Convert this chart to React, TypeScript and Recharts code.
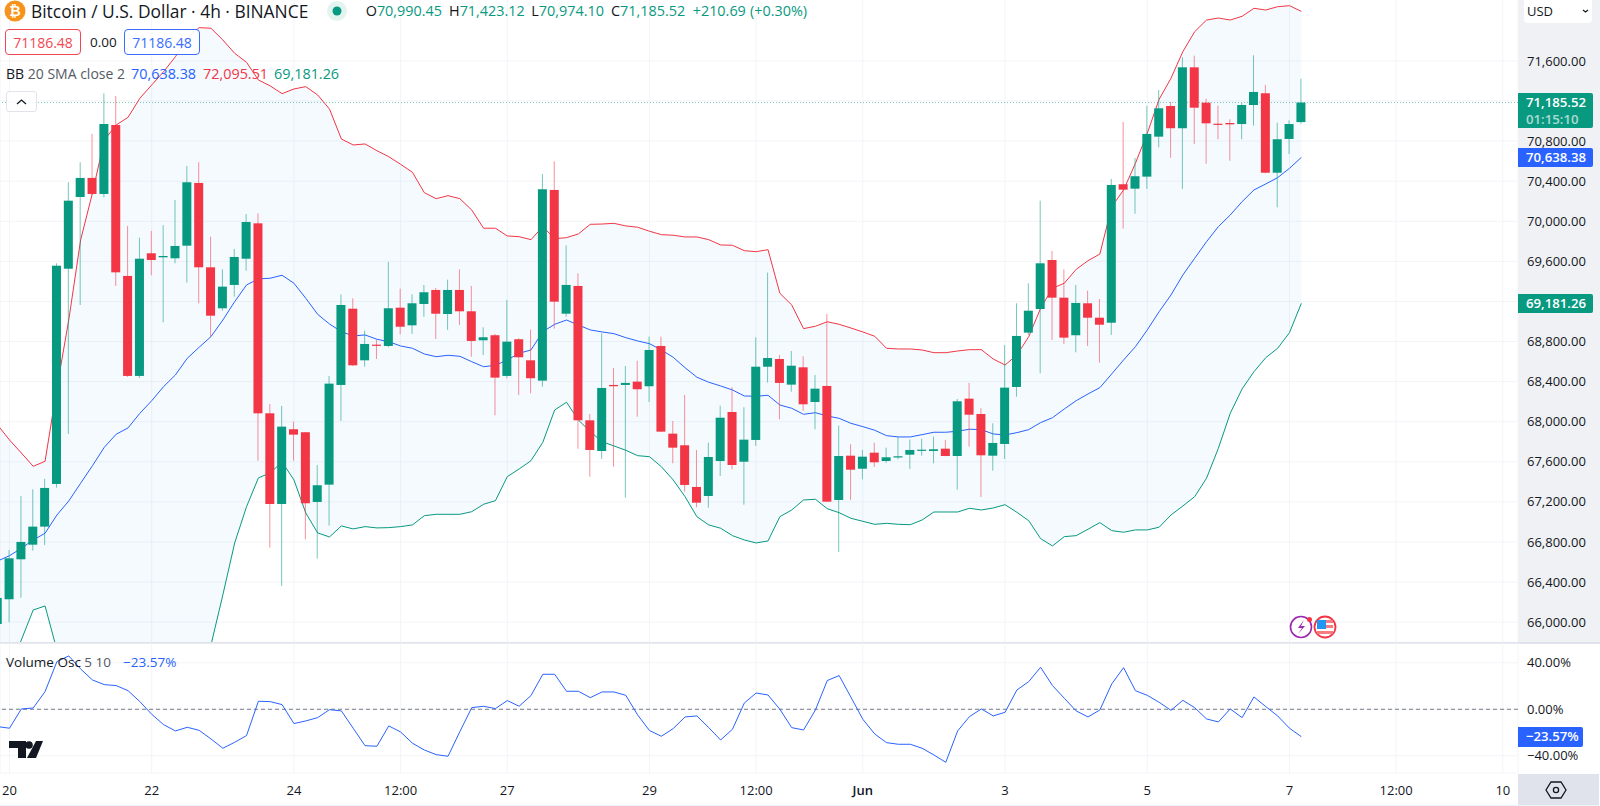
import { Area, Bar, CartesianGrid, ComposedChart, Line, LineChart, ReferenceLine, XAxis, YAxis } from 'recharts';

const FONT = '"Open Sans", sans-serif';
const UP = '#089981';
const DOWN = '#f23645';
const BLUE = '#2962ff';
const TEXT = '#131722';

// 4h candles, first entry sits one bar left of the "20" tick
const opens = [65981,66228,66627,66773,66953,67379,69527,70243,70433,70273,70961,69455,68457,69681,69641,69631,69757,70383,69541,69132,69365,69627,69980,68084,67179,67925,67895,67199,67372,68367,69128,68613,68769,68756,69138,68962,69175,69315,69075,69315,69102,68813,68863,68457,68823,68613,68410,70313,69078,69355,68014,67708,68367,68367,68400,68354,68756,67881,67765,67349,67259,67608,68097,67601,67818,68549,68626,68370,68543,68197,68357,67219,67661,67531,67691,67608,67648,67671,67711,67708,67731,67658,68230,68077,67661,67778,68347,68889,69125,69614,69238,68863,69182,69038,68988,70370,70326,70446,70845,71151,70929,71537,71184,70974,70981,70971,71161,71278,70485,70822,70990.45];
const closes = [66241,66637,66800,66953,67339,69557,70206,70433,70273,70971,69491,68457,69627,69614,69654,69754,70390,69541,69058,69348,69644,69993,68084,67179,67951,67871,67186,67366,68380,69165,68563,68776,68759,69132,68948,69182,69292,69078,69315,69102,68806,68843,68440,68799,68643,68434,70320,69198,69365,68014,67718,68337,68354,68387,68324,68716,67901,67741,67369,67192,67648,68040,67568,67821,68549,68636,68387,68559,68174,68330,67202,67658,67521,67651,67595,67645,67655,67718,67721,67725,67658,68204,68070,67665,67788,68340,68856,69108,69581,69238,68839,69185,69038,68968,70363,70316,70450,70872,71128,70929,71537,71134,70978,70964,70968,71161,71291,70485,70819,70971,71185.52];
const highs = [66271,66720,67259,67326,67429,69581,70390,70589,70872,71278,71251,69954,69837,69904,69961,70213,70552,70589,69847,69521,69724,70073,70080,68177,68157,68001,67898,67568,68457,69272,69232,68909,68816,69594,69328,69272,69365,69335,69418,69521,69355,68942,68876,69215,68833,68919,70472,70599,69761,69481,68077,68883,68536,68556,68609,68849,68849,68007,68267,67718,67791,68160,68344,68144,68843,69488,68666,68706,68653,68467,69075,67961,67775,67718,67791,67741,67851,67821,67828,67851,67818,68227,68387,68134,67984,68766,69182,69381,70206,69704,69521,69365,69308,69225,70423,70991,70632,71154,71311,71191,71637,71653,71224,71154,71018,71184,71657,71361,70984,71008,71423.12];
const lows = [65922,66000,66244,66713,66770,67342,67878,69165,70263,70240,69355,68447,68437,69461,68992,69581,69388,69182,68849,69108,69248,69507,67611,66743,66361,67611,66827,66633,66963,68008,68556,68549,68626,68743,68873,68876,69048,68826,68916,68965,68649,68666,68064,68434,68267,68284,68350,68929,69048,67731,67452,67628,67551,67242,68050,68197,67898,67585,67302,67146,67142,67459,67525,67172,67758,68390,68024,68300,68107,67925,67199,66700,67219,67425,67548,67591,67625,67528,67661,67585,67655,67322,67751,67249,67511,67628,68250,68866,68483,68816,68776,68693,68756,68589,68866,69927,70076,70323,70739,70635,70323,70772,70575,70819,70605,70819,70955,70479,70140,70672,70974.1];

// Bollinger bands 20 / 2
const upperBand = [67967,67818,67688,67555,67605,68337,69015,69814,70283,70812,70961,71038,71228,71361,71493,71643,71827,71933,71927,71810,71677,71587,71411,71351,71274,71321,71344,71261,71121,70822,70762,70772,70705,70645,70569,70489,70286,70226,70256,70226,70113,69931,69931,69854,69847,69817,69947,69827,69837,69874,69970,69973,69980,69954,69941,69901,69867,69861,69844,69844,69817,69764,69761,69707,69697,69717,69282,69165,68929,68953,68998,68972,68935,68896,68853,68733,68726,68726,68716,68689,68689,68706,68719,68719,68626,68566,68666,68849,69132,69332,69382,69521,69607,69674,70146,70313,70579,70879,71218,71428,71693,71893,72009,72029,72009,72046,72126,72109,72142,72152,72095.51];
const midBand = [66610,66663,66737,66820,66887,67069,67209,67386,67561,67745,67875,67938,68084,68210,68350,68467,68633,68743,68849,69015,69198,69365,69425,69432,69462,69382,69232,69072,68975,68899,68856,68866,68823,68799,68756,68733,68676,68649,68663,68653,68599,68549,68563,68616,68683,68716,68899,68972,69015,68965,68916,68896,68879,68839,68806,68779,68716,68643,68539,68444,68394,68357,68317,68257,68254,68264,68167,68134,68074,68090,68057,68034,67984,67951,67915,67861,67848,67848,67871,67895,67895,67905,67925,67921,67878,67868,67891,67921,67991,68040,68127,68210,68277,68340,68477,68616,68749,68916,69098,69265,69464,69631,69797,69947,70063,70196,70313,70373,70436,70529,70638.38];
const lowerBand = [65323,65522,65822,66121,66161,65722,65422,65023,64624,64225,64025,63926,63926,64075,64225,64425,64824,65223,65772,66271,66790,67152,67439,67489,67598,67419,67089,66890,66850,66960,66930,66953,66940,66943,66953,66970,67062,67076,67076,67076,67102,67176,67212,67452,67528,67611,67795,68117,68194,68017,67901,67801,67758,67715,67661,67651,67551,67419,67252,67052,66970,66937,66863,66820,66790,66810,67052,67119,67219,67226,67132,67092,67036,67006,66976,66986,66976,66972,67019,67099,67099,67099,67136,67119,67139,67172,67096,67012,66833,66760,66853,66863,66927,66993,66913,66897,66920,66920,66947,67069,67159,67252,67436,67735,68084,68327,68499,68639,68733,68889,69181.26];

// Volume oscillator, percent
const volumeOsc = [-14.9,-16.3,0.3,1.1,15.2,41,45.9,34.7,25.2,21.2,20.4,16,6.6,-4.3,-13.2,-18.6,-15.5,-18.1,-25.5,-33.5,-28.4,-22.6,6.9,6.6,4,-12.3,-10,-7.2,-0.3,-1.4,-16.3,-31.3,-31.8,-14.3,-19.5,-29.2,-35,-39,-40.4,-19.2,1.4,2.6,0.6,7.5,2.6,11.8,30.1,30.1,15.5,15.5,10,14.9,14.9,12,-4.9,-18.3,-23.2,-16.6,-6.6,-5.7,-15.8,-26.4,-17.2,5.4,14,12.3,0,-15.8,-17.8,-0.6,24.7,29,10.3,-8.6,-21.2,-28.7,-30.1,-30.1,-33.5,-39.3,-45.6,-18.6,-6.3,0.3,-5.7,-2.6,16.6,23.8,36.1,20.4,9.5,-1.4,-6.6,-0.6,21.8,35.8,16,12,6,-0.9,7.7,1.4,-8.3,-10.9,0.3,-7.2,10.6,2.3,-5.7,-16.3,-23.57];

const gridPrices = [71600,71200,70800,70400,70000,69600,69200,68800,68400,68000,67600,67200,66800,66400,66000];
// 71,200 and 69,200 are hidden behind the last-value tags
const priceTicks = [71600,70800,70400,70000,69600,68800,68400,68000,67600,67200,66800,66400,66000];
const oscTicks = [40, 0, -40];
const timeTicks = [0, 12, 24, 33, 42, 54, 63, 72, 84, 96, 108, 117, 126];
const timeLabels = ['20', '22', '24', '12:00', '27', '29', '12:00', 'Jun', '3', '5', '7', '12:00', '10'];

const FIRST_BAR = -1;
const barDomain: [number, number] = [-0.8016, 127.28];
const priceDomain: [number, number] = [65791.6, 72208.8];

const candles = opens.map((open, i) => ({
  bar: i + FIRST_BAR,
  open,
  close: closes[i],
  range: [lows[i], highs[i]],
  band: [lowerBand[i], upperBand[i]],
  upper: upperBand[i],
  mid: midBand[i],
  lower: lowerBand[i],
}));

const oscData = volumeOsc.map((osc, i) => ({ bar: i + FIRST_BAR, osc }));

function Candle(props: any) {
  const { x, y, width, height, payload } = props;
  const high = payload.range[1];
  const low = payload.range[0];
  const perUnit = height / (high - low);
  const top = y + (high - Math.max(payload.open, payload.close)) * perUnit;
  const bottom = y + (high - Math.min(payload.open, payload.close)) * perUnit;
  const color = payload.close >= payload.open ? UP : DOWN;
  const cx = x + width / 2;
  return (
    <g>
      <line x1={cx} x2={cx} y1={y} y2={y + height} stroke={color} strokeOpacity={0.55} strokeWidth={1} />
      <rect x={x} y={top} width={width} height={Math.max(bottom - top, 1.2)} fill={color} />
    </g>
  );
}

function TimeTick(props: any) {
  const { x, y, payload } = props;
  const label = timeLabels[timeTicks.indexOf(payload.value)];
  const isMonth = label === 'Jun';
  return (
    <text x={x} y={y} dy={8} textAnchor="middle" fontSize={13} fontFamily={FONT} fontWeight={isMonth ? 600 : 400} fill={TEXT}>
      {label}
    </text>
  );
}

function Txt({ x, y, color = TEXT, size = 14, weight = 400, children }: any) {
  return (
    <div
      style={{
        position: 'absolute',
        left: x,
        top: y - 10,
        height: 20,
        lineHeight: '20px',
        color,
        fontSize: size,
        fontWeight: weight,
        fontFamily: FONT,
        whiteSpace: 'nowrap',
      }}
    >
      {children}
    </div>
  );
}

function Tag({ y, h, w = 75, color, lines }: any) {
  return (
    <div
      style={{
        position: 'absolute',
        left: 1518,
        top: y,
        width: w,
        height: h,
        background: color,
        borderRadius: '0 2px 2px 0',
        color: '#fff',
        fontFamily: FONT,
        fontSize: 13.2,
        fontWeight: 600,
        paddingLeft: 8,
        boxSizing: 'border-box',
        lineHeight: '17px',
        paddingTop: 1,
      }}
    >
      {lines.map((l: string, i: number) => (
        <div key={l} style={{ opacity: i === 0 ? 1 : 0.65 }}>{l}</div>
      ))}
    </div>
  );
}

function Box({ x, w, color, children }: any) {
  return (
    <div
      style={{
        position: 'absolute',
        left: x,
        top: 29,
        width: w,
        height: 26,
        border: `1px solid ${color}`,
        borderRadius: 4,
        background: '#fff',
        opacity: 0.92,
        color,
        fontFamily: FONT,
        fontSize: 14,
        textAlign: 'center',
        lineHeight: '26px',
        boxSizing: 'border-box',
      }}
    >
      {children}
    </div>
  );
}

function Icons() {
  return (
    <svg width={1600} height={806} style={{ position: 'absolute', left: 0, top: 0, pointerEvents: 'none' }}>
      {/* bitcoin badge */}
      <circle cx={15} cy={11} r={10.5} fill="#f7931a" />
      <text x={15} y={16} textAnchor="middle" fontSize={14} fontWeight={700} fontFamily={FONT} fill="#fff">₿</text>
      {/* market status dot */}
      <circle cx={337} cy={11} r={10} fill="#e3f3ef" />
      <circle cx={337} cy={11} r={4.5} fill={UP} />
      {/* chevron */}
      <path d="M17 104 L21.5 100 L26 104" fill="none" stroke={TEXT} strokeWidth={1.3} />
      {/* USD chevron */}
      <path d="M1583 10 L1585.5 12 L1588 10" fill="none" stroke={TEXT} strokeWidth={1.2} />
      {/* event icons */}
      <circle cx={1301} cy={627} r={10.5} fill="#fff" stroke="#9c27b0" strokeWidth={1.6} />
      <path d="M1304 620 L1298 628 L1302 628 L1298 634 L1305 626 L1301 626 Z" fill="#9c27b0" />
      <circle cx={1309.5} cy={619.5} r={2.5} fill={DOWN} />
      <circle cx={1325} cy={627} r={10.5} fill="#fff" stroke={DOWN} strokeWidth={1.8} />
      <rect x={1317} y={620} width={16} height={3} fill="#f77c80" />
      <rect x={1317} y={625} width={16} height={3} fill="#f77c80" />
      <rect x={1317} y={631} width={16} height={3} fill="#f77c80" />
      <rect x={1317} y={620} width={9} height={9} fill="#2196f3" />
      {/* tradingview mark */}
      <path d="M9 741 H26 V758 H18 V748 H9 Z" fill={TEXT} />
      <circle cx={29} cy={745} r={3.8} fill={TEXT} />
      <path d="M36 741 H43 L36 758 H27 Z" fill={TEXT} />
      {/* settings hexagon */}
      <path d="M1551 782 H1561 L1566 790 L1561 798 H1551 L1546 790 Z" fill="none" stroke={TEXT} strokeWidth={1.3} />
      <circle cx={1556} cy={790} r={2.6} fill="none" stroke={TEXT} strokeWidth={1.3} />
    </svg>
  );
}

export default function App() {
  return (
    <div style={{ position: 'absolute', left: 0, top: 0, width: 1600, height: 806, overflow: 'hidden', background: '#fff' }}>
      <div style={{ position: 'absolute', left: 1518, top: 0, width: 82, height: 643, background: '#f0f1f5' }} />
      <div style={{ position: 'absolute', left: 1518, top: 774, width: 81, height: 31, background: '#e0e3eb' }} />
      <div style={{ position: 'absolute', left: 0, top: 805, width: 1600, height: 1, background: '#f0f3fa' }} />

      <div style={{ position: 'absolute', left: 0, top: 0 }}>
        <ComposedChart width={1600} height={643} data={candles} margin={{ top: 0, right: 0, bottom: 0, left: 0 }}>
          <CartesianGrid stroke="#f3f4f8" strokeWidth={1} horizontalValues={gridPrices} />
          <XAxis dataKey="bar" type="number" domain={barDomain} ticks={timeTicks} allowDataOverflow hide />
          <YAxis
            orientation="right"
            width={82}
            domain={priceDomain}
            ticks={priceTicks}
            allowDataOverflow
            interval={0}
            axisLine={false}
            tickLine={false}
            tickMargin={3}
            tick={{ fontSize: 13, fontFamily: FONT, fill: TEXT }}
            tickFormatter={(v: number) => v.toLocaleString('en-US', { minimumFractionDigits: 2 })}
          />
          <Area dataKey="band" stroke="none" fill="#2196f3" fillOpacity={0.05} isAnimationActive={false} dot={false} activeDot={false} />
          <ReferenceLine y={71185.52} stroke={UP} strokeDasharray="1 2" strokeOpacity={0.5} />
          <Line dataKey="upper" stroke={DOWN} strokeWidth={1} dot={false} activeDot={false} isAnimationActive={false} />
          <Line dataKey="mid" stroke={BLUE} strokeWidth={1} dot={false} activeDot={false} isAnimationActive={false} />
          <Line dataKey="lower" stroke={UP} strokeWidth={1} dot={false} activeDot={false} isAnimationActive={false} />
          <Bar dataKey="range" barSize={9} shape={Candle} isAnimationActive={false} zIndex={500} />
        </ComposedChart>
      </div>

      <div style={{ position: 'absolute', left: 0, top: 642, width: 1600, height: 1.5, background: '#e0e3eb' }} />

      <div style={{ position: 'absolute', left: 0, top: 643 }}>
        <LineChart width={1600} height={163} data={oscData} margin={{ top: 0, right: 0, bottom: 2, left: 0 }}>
          <CartesianGrid stroke="#f3f4f8" strokeWidth={1} />
          <XAxis
            dataKey="bar"
            type="number"
            domain={barDomain}
            ticks={timeTicks}
            allowDataOverflow
            interval={0}
            height={31}
            axisLine={false}
            tickLine={false}
            tickMargin={8}
            tick={<TimeTick />}
          />
          <YAxis
            orientation="right"
            width={82}
            domain={[-54.8, 57]}
            ticks={oscTicks}
            allowDataOverflow
            interval={0}
            axisLine={false}
            tickLine={false}
            tickMargin={3}
            tick={{ fontSize: 13, fontFamily: FONT, fill: TEXT }}
            tickFormatter={(v: number) => `${v < 0 ? '−' : ''}${Math.abs(v).toFixed(2)}%`}
          />
          <ReferenceLine y={0} stroke="#787b86" strokeDasharray="4 3" />
          <Line dataKey="osc" stroke={BLUE} strokeWidth={1} dot={false} activeDot={false} isAnimationActive={false} />
        </LineChart>
      </div>

      <Tag y={93} h={35} color={UP} lines={['71,185.52', '01:15:10']} />
      <Tag y={148} h={19} color={BLUE} lines={['70,638.38']} />
      <Tag y={294} h={19} color={UP} lines={['69,181.26']} />
      <Tag y={727} h={20} w={65} color={BLUE} lines={['−23.57%']} />

      <div style={{ position: 'absolute', left: 1524, top: 0, width: 68, height: 23, background: '#fff', borderRadius: '0 0 4px 4px' }} />
      <Txt x={1527} y={11} size={13}>USD</Txt>

      <Txt x={31} y={11} size={17.4}>Bitcoin / U.S. Dollar · 4h · BINANCE</Txt>
      <Txt x={365.7} y={11} color={UP} size={14.4}><span style={{ color: TEXT }}>O</span>70,990.45</Txt>
      <Txt x={449} y={11} color={UP} size={14.4}><span style={{ color: TEXT }}>H</span>71,423.12</Txt>
      <Txt x={531.3} y={11} color={UP} size={14.4}><span style={{ color: TEXT }}>L</span>70,974.10</Txt>
      <Txt x={611} y={11} color={UP} size={14.4}><span style={{ color: TEXT }}>C</span>71,185.52</Txt>
      <Txt x={692.7} y={11} color={UP} size={14.4}>+210.69</Txt>
      <Txt x={750} y={11} color={UP} size={14.4}>(+0.30%)</Txt>

      <Box x={5} w={76} color={DOWN}>71186.48</Box>
      <Txt x={90} y={42} size={13.5}>0.00</Txt>
      <Box x={124} w={76} color={BLUE}>71186.48</Box>

      <Txt x={6} y={74} size={14}>BB <span style={{ color: '#555a66' }}>20 SMA close 2</span></Txt>
      <Txt x={131} y={74} color={BLUE} size={14.4}>70,638.38</Txt>
      <Txt x={203} y={74} color={DOWN} size={14.4}>72,095.51</Txt>
      <Txt x={274} y={74} color={UP} size={14.4}>69,181.26</Txt>
      <div style={{ position: 'absolute', left: 6, top: 91, width: 31, height: 21, border: '1px solid #e0e3eb', borderRadius: 3, boxSizing: 'border-box', background: 'rgba(255,255,255,0.8)' }} />

      <Txt x={6} y={662} size={13.5}>Volume Osc <span style={{ color: '#555a66' }}>5 10</span></Txt>
      <Txt x={123} y={662} color={BLUE} size={13.5}>−23.57%</Txt>

      <Icons />
    </div>
  );
}
